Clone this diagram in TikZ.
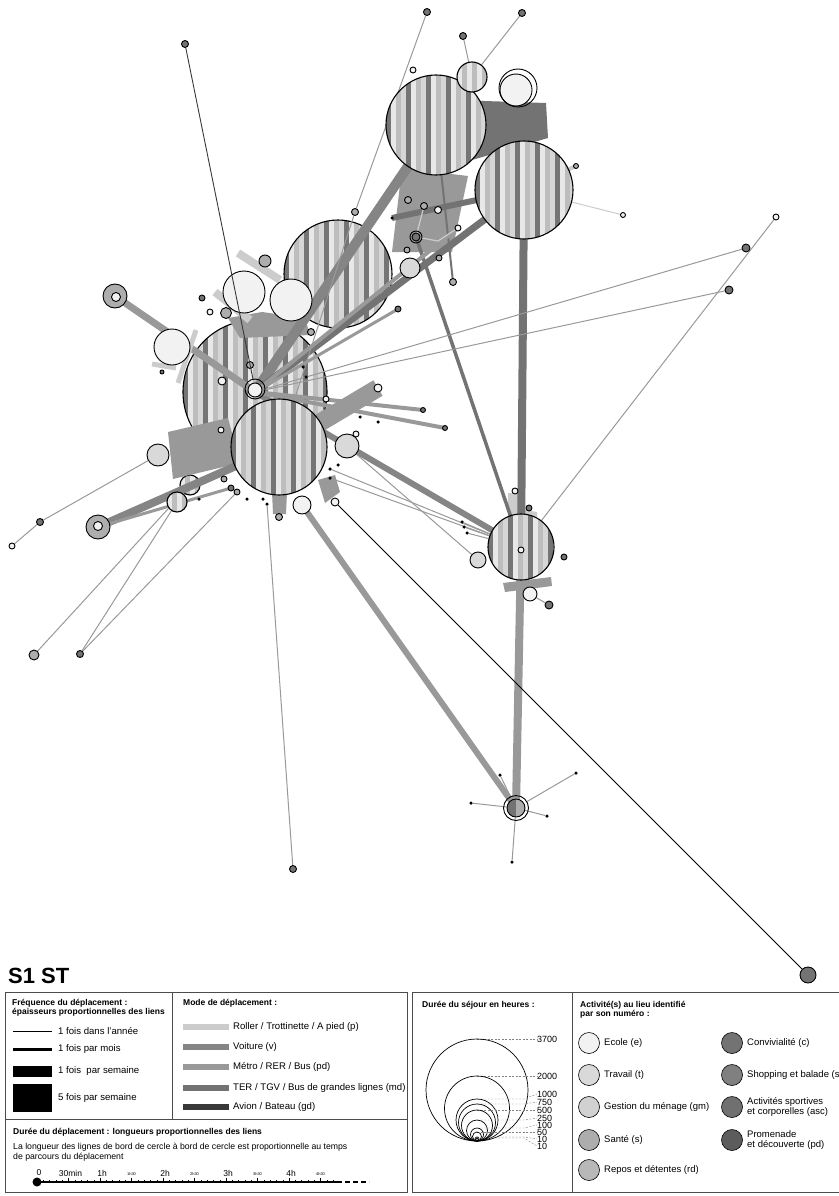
\documentclass[tikz,border=0pt]{standalone}
\usepackage{fontspec}
\setmainfont{Liberation Sans}

\pgfdeclarelayer{fond}
\pgfdeclarelayer{liens}
\pgfsetlayers{fond,liens,main}

\definecolor{pied}{gray}{0.80}
\definecolor{voiture}{gray}{0.52}
\definecolor{metro}{gray}{0.60}
\definecolor{ter}{gray}{0.45}
\definecolor{avion}{gray}{0.22}
\definecolor{ecole}{gray}{0.95}
\definecolor{travail}{gray}{0.85}
\definecolor{menage}{gray}{0.82}
\definecolor{sante}{gray}{0.68}
\definecolor{repos}{gray}{0.72}
\definecolor{conv}{gray}{0.45}
\definecolor{shop}{gray}{0.50}
\definecolor{sport}{gray}{0.44}
\definecolor{prom}{gray}{0.36}
\definecolor{rA}{gray}{0.91}
\definecolor{rB}{gray}{0.74}
\definecolor{rC}{gray}{0.46}
\definecolor{rD}{gray}{0.84}

\tikzset{
  lieu/.style={circle, draw=black, line width=0.9pt, inner sep=0pt, fill=#1},
  anneau/.style={circle, draw=black, line width=0.9pt, inner sep=0pt},
  minipoint/.style={circle, fill=black, inner sep=0pt, minimum size=3.5pt},
  raye/.style={circle, draw=black, line width=1.1pt, inner sep=0pt, minimum size=#1,
    path picture={
      \foreach \k in {0,...,7}{
        \fill[rC] ([xshift=\k*20pt]path picture bounding box.south west) rectangle ++(5pt,160pt);
        \fill[rA] ([xshift=\k*20pt+5pt]path picture bounding box.south west) rectangle ++(5pt,160pt);
        \fill[rB] ([xshift=\k*20pt+10pt]path picture bounding box.south west) rectangle ++(5pt,160pt);
        \fill[rD] ([xshift=\k*20pt+15pt]path picture bounding box.south west) rectangle ++(5pt,160pt);
      }}},
  rayeclair/.style={raye=#1, path picture={
      \foreach \k in {0,...,3}{
        \fill[rA] ([xshift=\k*10pt]path picture bounding box.south west) rectangle ++(5pt,60pt);
        \fill[rB] ([xshift=\k*10pt+5pt]path picture bounding box.south west) rectangle ++(5pt,60pt);
      }}},
  legende/.style={anchor=west, inner sep=0pt, font=\fontsize{9.6}{11}\selectfont},
  activ/.style={anchor=west, inner sep=0pt, font=\fontsize{9.5}{9.5}\selectfont, align=left},
  petit/.style={anchor=west, inner sep=0pt, font=\fontsize{8.7}{10}\selectfont},
  titre/.style={anchor=west, inner sep=0pt, font=\fontsize{8.5}{9}\selectfont\bfseries, align=left},
  cadre/.style={draw=black!70, line width=0.7pt},
}

\begin{document}
\begin{tikzpicture}[x=1pt,y=-1pt]
\useasboundingbox (0,0) rectangle (838,1196);

% grands lieux du fond
\begin{pgfonlayer}{fond}
\node[raye=108] (C) at (338,274) {};
\node[raye=144] (D) at (255,392) {};
\node[rayeclair=20] (s2) at (190,485) {};
\end{pgfonlayer}

\node[raye=100] (A) at (436,125) {};
\node[raye=98] (B) at (524,190) {};
\node[raye=96] (E) at (279,447) {};
\node[raye=66] (F) at (521,547) {};
\node[rayeclair=30] (a1) at (472,77) {};
\node[rayeclair=20] (s1) at (177,502) {};

% petits lieux
\node[lieu=ecole, minimum size=32] (n1) at (516,90) {};
\node[anneau, minimum size=38] (n1a) at (518,88) {};
\node[lieu=ecole, minimum size=6] (n2) at (413,70) {};
\node[lieu=conv, minimum size=7] (n3) at (463,36) {};
\node[lieu=conv, minimum size=7] (n4) at (427,12) {};
\node[lieu=conv, minimum size=7] (n5) at (522,13) {};
\node[lieu=sante, minimum size=5] (n6) at (576,166) {};
\node[lieu=ecole, minimum size=5] (n7) at (623,215) {};
\node[lieu=ecole, minimum size=6] (n8) at (776,217) {};
\node[lieu=conv, minimum size=8] (n9) at (746,248) {};
\node[lieu=conv, minimum size=8] (n10) at (729,290) {};
\node[lieu=conv, minimum size=6] (n11) at (398,309) {};
\node[lieu=sante, minimum size=7] (n12) at (408,200) {};
\node[lieu=sante, minimum size=7] (n13) at (424,206) {};
\node[lieu=ecole, minimum size=7] (n14) at (438,210) {};
\node[lieu=conv, minimum size=8] (n15) at (416,237) {};
\node[anneau, minimum size=12] (n15a) at (416,237) {};
\node[lieu=ecole, minimum size=6] (n16) at (458,228) {};
\node[lieu=sante, minimum size=6] (n17) at (407,250) {};
\node[lieu=sante, minimum size=6] (n18) at (439,258) {};
\node[lieu=sante, minimum size=7] (n19) at (453,282) {};
\node[lieu=travail, minimum size=20] (n20) at (410,268) {};
\node[lieu=sante, minimum size=7] (n21) at (355,212) {};
\node[lieu=ecole, minimum size=42] (n22) at (244,292) {};
\node[lieu=ecole, minimum size=42] (n23) at (291,300) {};
\node[lieu=ecole, minimum size=36] (n24) at (172,347) {};
\node[lieu=sante, minimum size=12] (n25) at (265,261) {};
\node[lieu=conv, minimum size=6] (n26) at (202,298) {};
\node[lieu=ecole, minimum size=6] (n27) at (210,312) {};
\node[lieu=sante, minimum size=11] (n28) at (226,313) {};
\node[lieu=conv, minimum size=4] (n29) at (162,372) {};
\node[lieu=sante, minimum size=24] (n30) at (115,296) {};
\node[lieu=ecole, minimum size=9] (n30b) at (116,297) {};
\node[lieu=sante, minimum size=24] (n31) at (98,527) {};
\node[lieu=ecole, minimum size=9] (n31b) at (98,526) {};
\node[lieu=travail, minimum size=22] (n32) at (158,455) {};
\node[lieu=conv, minimum size=7] (n33) at (40,522) {};
\node[lieu=ecole, minimum size=6] (n34) at (12,546) {};
\node[lieu=sante, minimum size=10] (n35) at (34,655) {};
\node[lieu=conv, minimum size=7] (n36) at (80,654) {};
\node[lieu=conv, minimum size=7] (n37) at (185,44) {};
\node[lieu=conv, minimum size=7] (n38) at (293,869) {};
\node[lieu=conv, minimum size=16] (n39) at (808,975) {};
\node[lieu=travail, minimum size=24] (n40) at (347,446) {};
\node[lieu=ecole, minimum size=6] (n41) at (356,434) {};
\node[lieu=ecole, minimum size=8] (n42) at (378,388) {};
\node[lieu=conv, minimum size=5] (n43) at (423,410) {};
\node[lieu=conv, minimum size=5] (n44) at (445,428) {};
\node[lieu=ecole, minimum size=18] (n45) at (302,505) {};
\node[lieu=ecole, minimum size=8] (n46) at (335,502) {};
\node[lieu=sante, minimum size=7] (n47) at (279,517) {};
\node[lieu=sante, minimum size=6] (n48) at (224,479) {};
\node[lieu=conv, minimum size=6] (n49) at (231,488) {};
\node[lieu=sante, minimum size=6] (n50) at (237,492) {};
\node[lieu=ecole, minimum size=6] (n51) at (221,430) {};
\node[lieu=sante, minimum size=7] (n52) at (250,365) {};
\node[lieu=ecole, minimum size=8] (n53) at (222,381) {};
\node[lieu=sante, minimum size=7] (n54) at (311,332) {};
\node[lieu=ecole, minimum size=6] (n55) at (326,399) {};
\node[lieu=ecole, minimum size=14] (n56) at (255,390) {};
\node[anneau, minimum size=20] (n56a) at (255,389) {};
\node[lieu=ecole, minimum size=6] (n57) at (515,491) {};
\node[lieu=conv, minimum size=6] (n58) at (529,508) {};
\node[lieu=conv, minimum size=6] (n59) at (564,557) {};
\node[lieu=travail, minimum size=16] (n60) at (478,560) {};
\node[lieu=ecole, minimum size=14] (n61) at (530,594) {};
\node[lieu=conv, minimum size=8] (n62) at (549,605) {};
\node[lieu=ecole, minimum size=6] (n63) at (521,550) {};
\node[lieu=sante, minimum size=18, path picture={\fill[conv] (path picture bounding box.south west) rectangle (path picture bounding box.north);}] (G) at (516,808) {};
\node[anneau, minimum size=25] (Ga) at (516,808) {};

% points noirs
\node[minipoint] (t1) at (392,218) {};
\node[minipoint] (t2) at (303,367) {};
\node[minipoint] (t3) at (306,377) {};
\node[minipoint] (t4) at (247,499) {};
\node[minipoint] (t5) at (263,499) {};
\node[minipoint] (t6) at (267,504) {};
\node[minipoint] (t7) at (330,469) {};
\node[minipoint] (t8) at (330,478) {};
\node[minipoint] (t9) at (338,465) {};
\node[minipoint] (t10) at (199,499) {};
\node[minipoint] (t11) at (360,417) {};
\node[minipoint] (t12) at (378,422) {};
\node[minipoint] (t13) at (462,522) {};
\node[minipoint] (t14) at (464,527) {};
\node[minipoint] (t15) at (467,533) {};
\node[minipoint] (g1) at (500,775) {};
\node[minipoint] (g2) at (471,803) {};
\node[minipoint] (g3) at (547,816) {};
\node[minipoint] (g4) at (512,862) {};
\node[minipoint] (g5) at (576,773) {};

\coordinate (q1) at (196,330);
\coordinate (q2) at (178,383);
\coordinate (q3) at (152,364);
\coordinate (q4) at (176,368);
\coordinate (q5) at (238,253);
\coordinate (q6) at (280,280);
\coordinate (q7) at (215,292);
\coordinate (q8) at (250,320);
\coordinate (q9) at (438,241);

% liens
\begin{pgfonlayer}{liens}
\fill[ter] (453,100) -- (546,103) -- (548,138) -- (472,160) -- cycle;
\fill[metro] (402,168) -- (468,176) -- (452,252) -- (392,252) -- cycle;
\fill[metro] (168,432) -- (228,418) -- (240,463) -- (173,479) -- cycle;
\fill[metro] (228,318) -- (262,312) -- (305,318) -- (310,335) -- (240,338) -- cycle;
\fill[metro] (503,583) -- (551,577) -- (552,586) -- (505,592) -- cycle;
\fill[pied] (508,493) -- (523,493) -- (525,510) -- (537,512) -- (537,520) -- (508,520) -- cycle;
\fill[ter] (540,530) -- (551,533) -- (549,565) -- (538,562) -- cycle;
\fill[metro] (318,480) -- (335,475) -- (340,492) -- (325,503) -- cycle;
\fill[metro] (272,492) -- (287,492) -- (286,514) -- (273,514) -- cycle;

\draw[voiture, line width=10] (D.center) -- (A.center);
\draw[ter, line width=7] (D.center) -- (B.center);
\draw[metro, line width=7] (n30.center) -- (D.center);
\draw[voiture, line width=8] (n31.center) -- (E.center);
\draw[metro, line width=3] (n31.center) -- (n49.center);
\draw[metro, line width=6] (n45.center) -- (G.center);
\draw[ter, line width=8] (B.center) -- (F.center);
\draw[metro, line width=8] (F.center) -- (G.center);
\draw[voiture, line width=6] (D.center) -- (F.center);
\draw[ter, line width=3.5] (n15.center) -- (F.center);
\draw[ter, line width=6] (t1.center) -- (B.center);
\draw[ter, line width=2] (n19.center) -- (A.center);
\draw[metro, line width=18] (E.center) -- (n42.center);
\draw[metro, line width=4] (D.center) -- (n43.center);
\draw[metro, line width=4] (D.center) -- (n44.center);
\draw[metro, line width=3] (D.center) -- (n11.center);
\draw[metro, line width=4] (D.center) -- (n16.center);
\draw[pied, line width=4] (n6.center) -- (B.center);
\draw[pied, line width=5] (q1) -- (q2);
\draw[pied, line width=5] (q3) -- (q4);
\draw[pied, line width=8] (q5) -- (q6);
\draw[pied, line width=8] (q7) -- (q8);

\draw[metro, line width=1] (n9) -- (D.center);
\draw[metro, line width=1] (n10) -- (D.center);
\draw[metro, line width=1] (n8) -- (F.center);
\draw[pied, line width=1] (B.center) -- (n7);
\draw[metro, line width=1] (n5) -- (a1.center);
\draw[metro, line width=1] (n3) -- (a1.center);
\draw[metro, line width=1] (n4) -- (n21) -- (E.center);
\draw[metro, line width=1] (t6) -- (n38);
\draw[metro, line width=1] (n32) -- (n33) -- (n34);
\draw[metro, line width=1] (n35) -- (s2);
\draw[metro, line width=1] (n36) -- (s1);
\draw[metro, line width=1] (n36) -- (n50);
\draw[metro, line width=1] (t7) -- (F.center);
\draw[metro, line width=1] (t8) -- (F.center);
\draw[metro, line width=1] (t13) -- (F.center);
\draw[metro, line width=1] (t14) -- (F.center);
\draw[metro, line width=1] (t15) -- (F.center);
\draw[metro, line width=1] (n40) -- (n60);
\draw[metro, line width=1] (n61) -- (n62);
\draw[pied, line width=1.2] (n13) -- (n15) -- (q9) -- (n16);
\draw[metro, line width=1] (G) -- (g1);
\draw[metro, line width=1] (G) -- (g2);
\draw[metro, line width=1] (G) -- (g3);
\draw[metro, line width=1] (G) -- (g4);
\draw[metro, line width=1] (Ga) -- (g5);
\end{pgfonlayer}

\draw[avion, line width=0.9] (n37) -- (n56a);
\draw[black, line width=0.9] (n46) -- (n39);

% legende
\node[anchor=base west, inner sep=0pt, font=\fontsize{22}{22}\selectfont\bfseries] (titre) at (8,983) {S1 ST};

\draw[cadre] (5,992) rectangle (407,1192);
\draw[cadre] (172,992) -- (172,1119);
\draw[cadre] (5,1119) -- (407,1119);
\draw[cadre] (412,992) rectangle (572,1192);
\draw[cadre] (572,992) -- (845,992);
\draw[cadre] (572,1192) -- (845,1192);

\node[titre] (freq) at (12,1008) {Fréquence du déplacement :\\épaisseurs proportionnelles des liens};
\draw[line width=1] (13,1031) -- (52,1031);
\draw[line width=3] (13,1049) -- (52,1049);
\fill (13,1066) rectangle (52,1077);
\fill (13,1084) rectangle (52,1112);
\node[legende] (f1) at (58,1031) {1 fois dans l'année};
\node[legende] (f2) at (58,1049) {1 fois par mois};
\node[legende] (f3) at (58,1071) {1 fois\ \ par semaine};
\node[legende] (f4) at (58,1098) {5 fois par semaine};

\node[titre] (mode) at (183,1003) {Mode de déplacement :};
\fill[pied] (183,1024) rectangle (229,1030);
\fill[voiture] (183,1044) rectangle (229,1050);
\fill[metro] (183,1064) rectangle (229,1070);
\fill[ter] (183,1085) rectangle (229,1091);
\fill[avion] (183,1104) rectangle (229,1110);
\node[legende] (m1) at (233,1027) {Roller / Trottinette / A pied (p)};
\node[legende] (m2) at (233,1047) {Voiture (v)};
\node[legende] (m3) at (233,1067) {Métro / RER / Bus (pd)};
\node[legende] (m4) at (233,1088) {TER / TGV / Bus de grandes lignes (md)};
\node[legende] (m5) at (233,1107) {Avion / Bateau (gd)};

\node[titre] (duree) at (13,1132) {Durée du déplacement : longueurs proportionnelles des liens};
\node[petit] (expl) at (13,1147) {La longueur des lignes de bord de cercle à bord de cercle est proportionnelle au temps};
\node[petit] (expl2) at (13,1157) {de parcours du déplacement};
\draw[line width=1.6] (37,1182) -- (337,1182);
\draw[line width=1.6, dash pattern=on 5pt off 3pt] (337,1182) -- (369,1182);
\foreach \i in {0,...,47} \draw[line width=0.4] (37+\i*6.3,1182) -- ++(0,-2.5);
\foreach \i in {0,...,9} \draw[line width=0.6] (37+\i*31.5,1182) -- ++(0,-4.5);
\fill (37,1182) circle (4.5pt);
\foreach \i/\t in {0/0,1/30min,2/1h,4/2h,6/3h,8/4h}
  \node[font=\fontsize{8.5}{8.5}\selectfont, inner sep=0pt] at (39+\i*31.5,1173) {\t};
\foreach \i/\t in {3/1h30,5/2h30,7/3h30,9/4h30}
  \node[font=\fontsize{4}{4}\selectfont, inner sep=0pt] at (37+\i*31.5,1174) {\t};

\node[titre] (sejour) at (422,1005) {Durée du séjour en heures :};
\foreach \c/\r/\l/\ly in {1090/51/3700/1039, 1108.5/32.5/2000/1076, 1120/21/1000/1094,
    1122.5/18.5/750/1102, 1125.5/15.5/500/1110, 1130.5/10.5/250/1118,
    1134.5/6.5/100/1125, 1136.5/4.5/50/1132, 1139/2/10/1139, 1139.5/1.5/10/1146}{
  \draw[gray, line width=0.4, dash pattern=on 2pt off 1.5pt] (477,\c-\r) -- (524,\c-\r) -- (537,\ly);
  \draw[line width=0.7] (477,\c) circle (\r pt);
  \node[anchor=west, inner sep=0pt, font=\fontsize{9}{9}\selectfont] at (537,\ly) {\l};
}

\node[titre] (activ) at (580,1010) {Activité(s) au lieu identifié\\par son numéro :};
\node[lieu=ecole, line width=0.6pt, minimum size=21] (la1) at (589,1043) {};
\node[lieu=travail, line width=0.6pt, minimum size=21] (la2) at (589,1075) {};
\node[lieu=menage, line width=0.6pt, minimum size=21] (la3) at (589,1107) {};
\node[lieu=sante, line width=0.6pt, minimum size=21] (la4) at (589,1140) {};
\node[lieu=repos, line width=0.6pt, minimum size=21] (la5) at (589,1170) {};
\node[lieu=conv, line width=0.6pt, minimum size=21] (la6) at (732,1043) {};
\node[lieu=shop, line width=0.6pt, minimum size=21] (la7) at (732,1075) {};
\node[lieu=sport, line width=0.6pt, minimum size=21] (la8) at (732,1107) {};
\node[lieu=prom, line width=0.6pt, minimum size=21] (la9) at (732,1140) {};
\node[activ] at (604,1043) {Ecole (e)};
\node[activ] at (604,1075) {Travail (t)};
\node[activ] at (604,1107) {Gestion du ménage (gm)};
\node[activ] at (604,1140) {Santé (s)};
\node[activ] at (604,1170) {Repos et détentes (rd)};
\node[activ] at (747,1043) {Convivialité (c)};
\node[activ] at (747,1075) {Shopping et balade (sb)};
\node[activ] at (747,1107) {Activités sportives\\et corporelles (asc)};
\node[activ] at (747,1140) {Promenade\\et découverte (pd)};
\end{tikzpicture}
\end{document}
